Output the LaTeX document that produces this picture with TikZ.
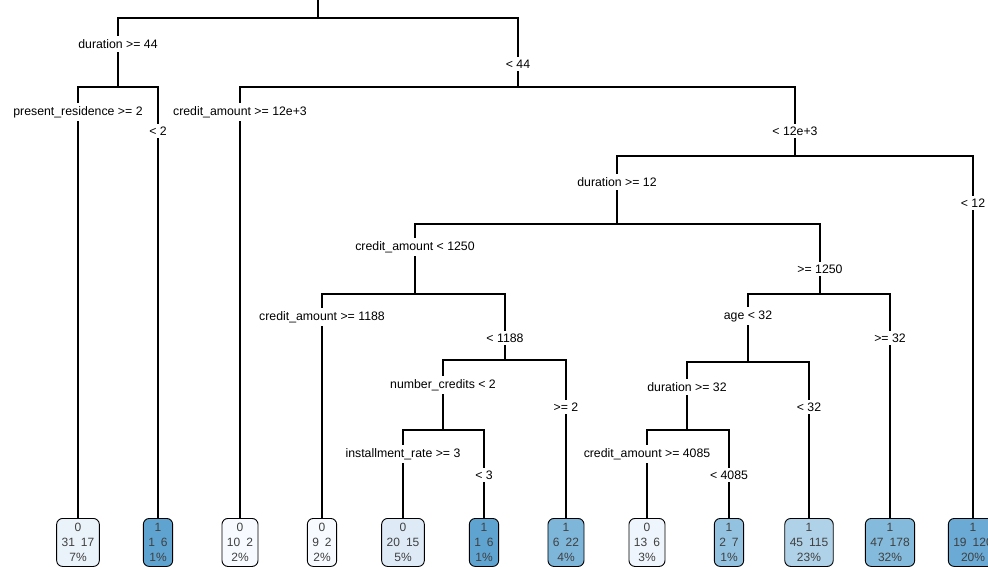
\documentclass[tikz,border=0pt]{standalone}
\usepackage{fontspec}
\setmainfont{Liberation Sans}
\usetikzlibrary{backgrounds}
\definecolor{lfA}{HTML}{EAF2FA}
\definecolor{lfB}{HTML}{F7FBFF}
\definecolor{lfC}{HTML}{DEEBF7}
\definecolor{lfD}{HTML}{EEF5FC}
\definecolor{lfE}{HTML}{5FA3D0}
\definecolor{lfF}{HTML}{7EB6DA}
\definecolor{lfG}{HTML}{92C2DF}
\definecolor{lfH}{HTML}{B0D2E8}
\definecolor{lfI}{HTML}{84BADB}
\definecolor{lfJ}{HTML}{6AAAD4}
\definecolor{leaftext}{HTML}{404040}
\tikzset{
  splitlbl/.style={fill=white, inner xsep=1pt, inner ysep=3pt, font=\fontsize{12.3}{14}\selectfont, text=black},
  leafbox/.style={draw=black, line width=0.9pt, rounded corners=6pt, anchor=north, align=center,
    inner xsep=5pt, inner ysep=2pt, minimum height=48pt, font=\fontsize{12}{15}\selectfont, text=leaftext},
  edge/.style={draw=black, line width=1.2pt}
}
\newcommand{\gp}{\hspace{0.5em}}
\begin{document}
\begin{tikzpicture}[x=1pt,y=-1pt]
\useasboundingbox (0,0) rectangle (988,567);
% split labels
\node[splitlbl] (n1) at (118,44) {duration >= 44};
\node[splitlbl] (n2) at (518,64) {< 44};
\node[splitlbl] (n3) at (78,112) {present\_residence >= 2};
\node[splitlbl] (n4) at (158,131) {< 2};
\node[splitlbl] (n5) at (240,112) {credit\_amount >= 12e+3};
\node[splitlbl] (n6) at (795,131) {< 12e+3};
\node[splitlbl] (n7) at (617,182) {duration >= 12};
\node[splitlbl] (n8) at (973,203) {< 12};
\node[splitlbl] (n9) at (415,247) {credit\_amount < 1250};
\node[splitlbl] (n10) at (820,269) {>= 1250};
\node[splitlbl] (n11) at (322,317) {credit\_amount >= 1188};
\node[splitlbl] (n12) at (505,338) {< 1188};
\node[splitlbl] (n13) at (748,316) {age < 32};
\node[splitlbl] (n14) at (890,338) {>= 32};
\node[splitlbl] (n15) at (443,385) {number\_credits < 2};
\node[splitlbl] (n16) at (566,407) {>= 2};
\node[splitlbl] (n17) at (687,387) {duration >= 32};
\node[splitlbl] (n18) at (809,407) {< 32};
\node[splitlbl] (n19) at (403,454) {installment\_rate >= 3};
\node[splitlbl] (n20) at (484,475) {< 3};
\node[splitlbl] (n21) at (647,454) {credit\_amount >= 4085};
\node[splitlbl] (n22) at (729,475) {< 4085};
% leaves
\node[leafbox, fill=lfA] (l1) at (78,518) {0\\31\gp17\\7\%};
\node[leafbox, fill=lfE] (l2) at (158,518) {1\\1\gp6\\1\%};
\node[leafbox, fill=lfB] (l3) at (240,518) {0\\10\gp2\\2\%};
\node[leafbox, fill=lfB] (l4) at (322,518) {0\\9\gp2\\2\%};
\node[leafbox, fill=lfC] (l5) at (403,518) {0\\20\gp15\\5\%};
\node[leafbox, fill=lfE] (l6) at (484,518) {1\\1\gp6\\1\%};
\node[leafbox, fill=lfF] (l7) at (566,518) {1\\6\gp22\\4\%};
\node[leafbox, fill=lfD] (l8) at (647,518) {0\\13\gp6\\3\%};
\node[leafbox, fill=lfG] (l9) at (729,518) {1\\2\gp7\\1\%};
\node[leafbox, fill=lfH] (l10) at (809,518) {1\\45\gp115\\23\%};
\node[leafbox, fill=lfI] (l11) at (890,518) {1\\47\gp178\\32\%};
\node[leafbox, fill=lfJ] (l12) at (973,518) {1\\19\gp120\\20\%};
% split points
\coordinate (top) at (318,0);
\coordinate (s0) at (318,18);
\coordinate (s1) at (118,87);
\coordinate (s2) at (518,87);
\coordinate (s3) at (795,156);
\coordinate (s4) at (617,224);
\coordinate (s5) at (415,294);
\coordinate (s6) at (820,294);
\coordinate (s7) at (505,360);
\coordinate (s8) at (748,362);
\coordinate (s9) at (443,430);
\coordinate (s10) at (687,430);
\begin{scope}[on background layer]
\path[edge] (top) -- (s0) -| (n1.center);
\path[edge] (s0) -| (n2.center);
\path[edge] (n1.center) -- (s1) -| (n3.center);
\path[edge] (s1) -| (n4.center);
\path[edge] (n2.center) -- (s2) -| (n5.center);
\path[edge] (s2) -| (n6.center);
\path[edge] (n6.center) -- (s3) -| (n7.center);
\path[edge] (s3) -| (n8.center);
\path[edge] (n7.center) -- (s4) -| (n9.center);
\path[edge] (s4) -| (n10.center);
\path[edge] (n9.center) -- (s5) -| (n11.center);
\path[edge] (s5) -| (n12.center);
\path[edge] (n10.center) -- (s6) -| (n13.center);
\path[edge] (s6) -| (n14.center);
\path[edge] (n12.center) -- (s7) -| (n15.center);
\path[edge] (s7) -| (n16.center);
\path[edge] (n13.center) -- (s8) -| (n17.center);
\path[edge] (s8) -| (n18.center);
\path[edge] (n15.center) -- (s9) -| (n19.center);
\path[edge] (s9) -| (n20.center);
\path[edge] (n17.center) -- (s10) -| (n21.center);
\path[edge] (s10) -| (n22.center);
\path[edge] (n3.center) -- (l1.north);
\path[edge] (n4.center) -- (l2.north);
\path[edge] (n5.center) -- (l3.north);
\path[edge] (n11.center) -- (l4.north);
\path[edge] (n19.center) -- (l5.north);
\path[edge] (n20.center) -- (l6.north);
\path[edge] (n16.center) -- (l7.north);
\path[edge] (n21.center) -- (l8.north);
\path[edge] (n22.center) -- (l9.north);
\path[edge] (n18.center) -- (l10.north);
\path[edge] (n14.center) -- (l11.north);
\path[edge] (n8.center) -- (l12.north);
\end{scope}
\end{tikzpicture}
\end{document}
